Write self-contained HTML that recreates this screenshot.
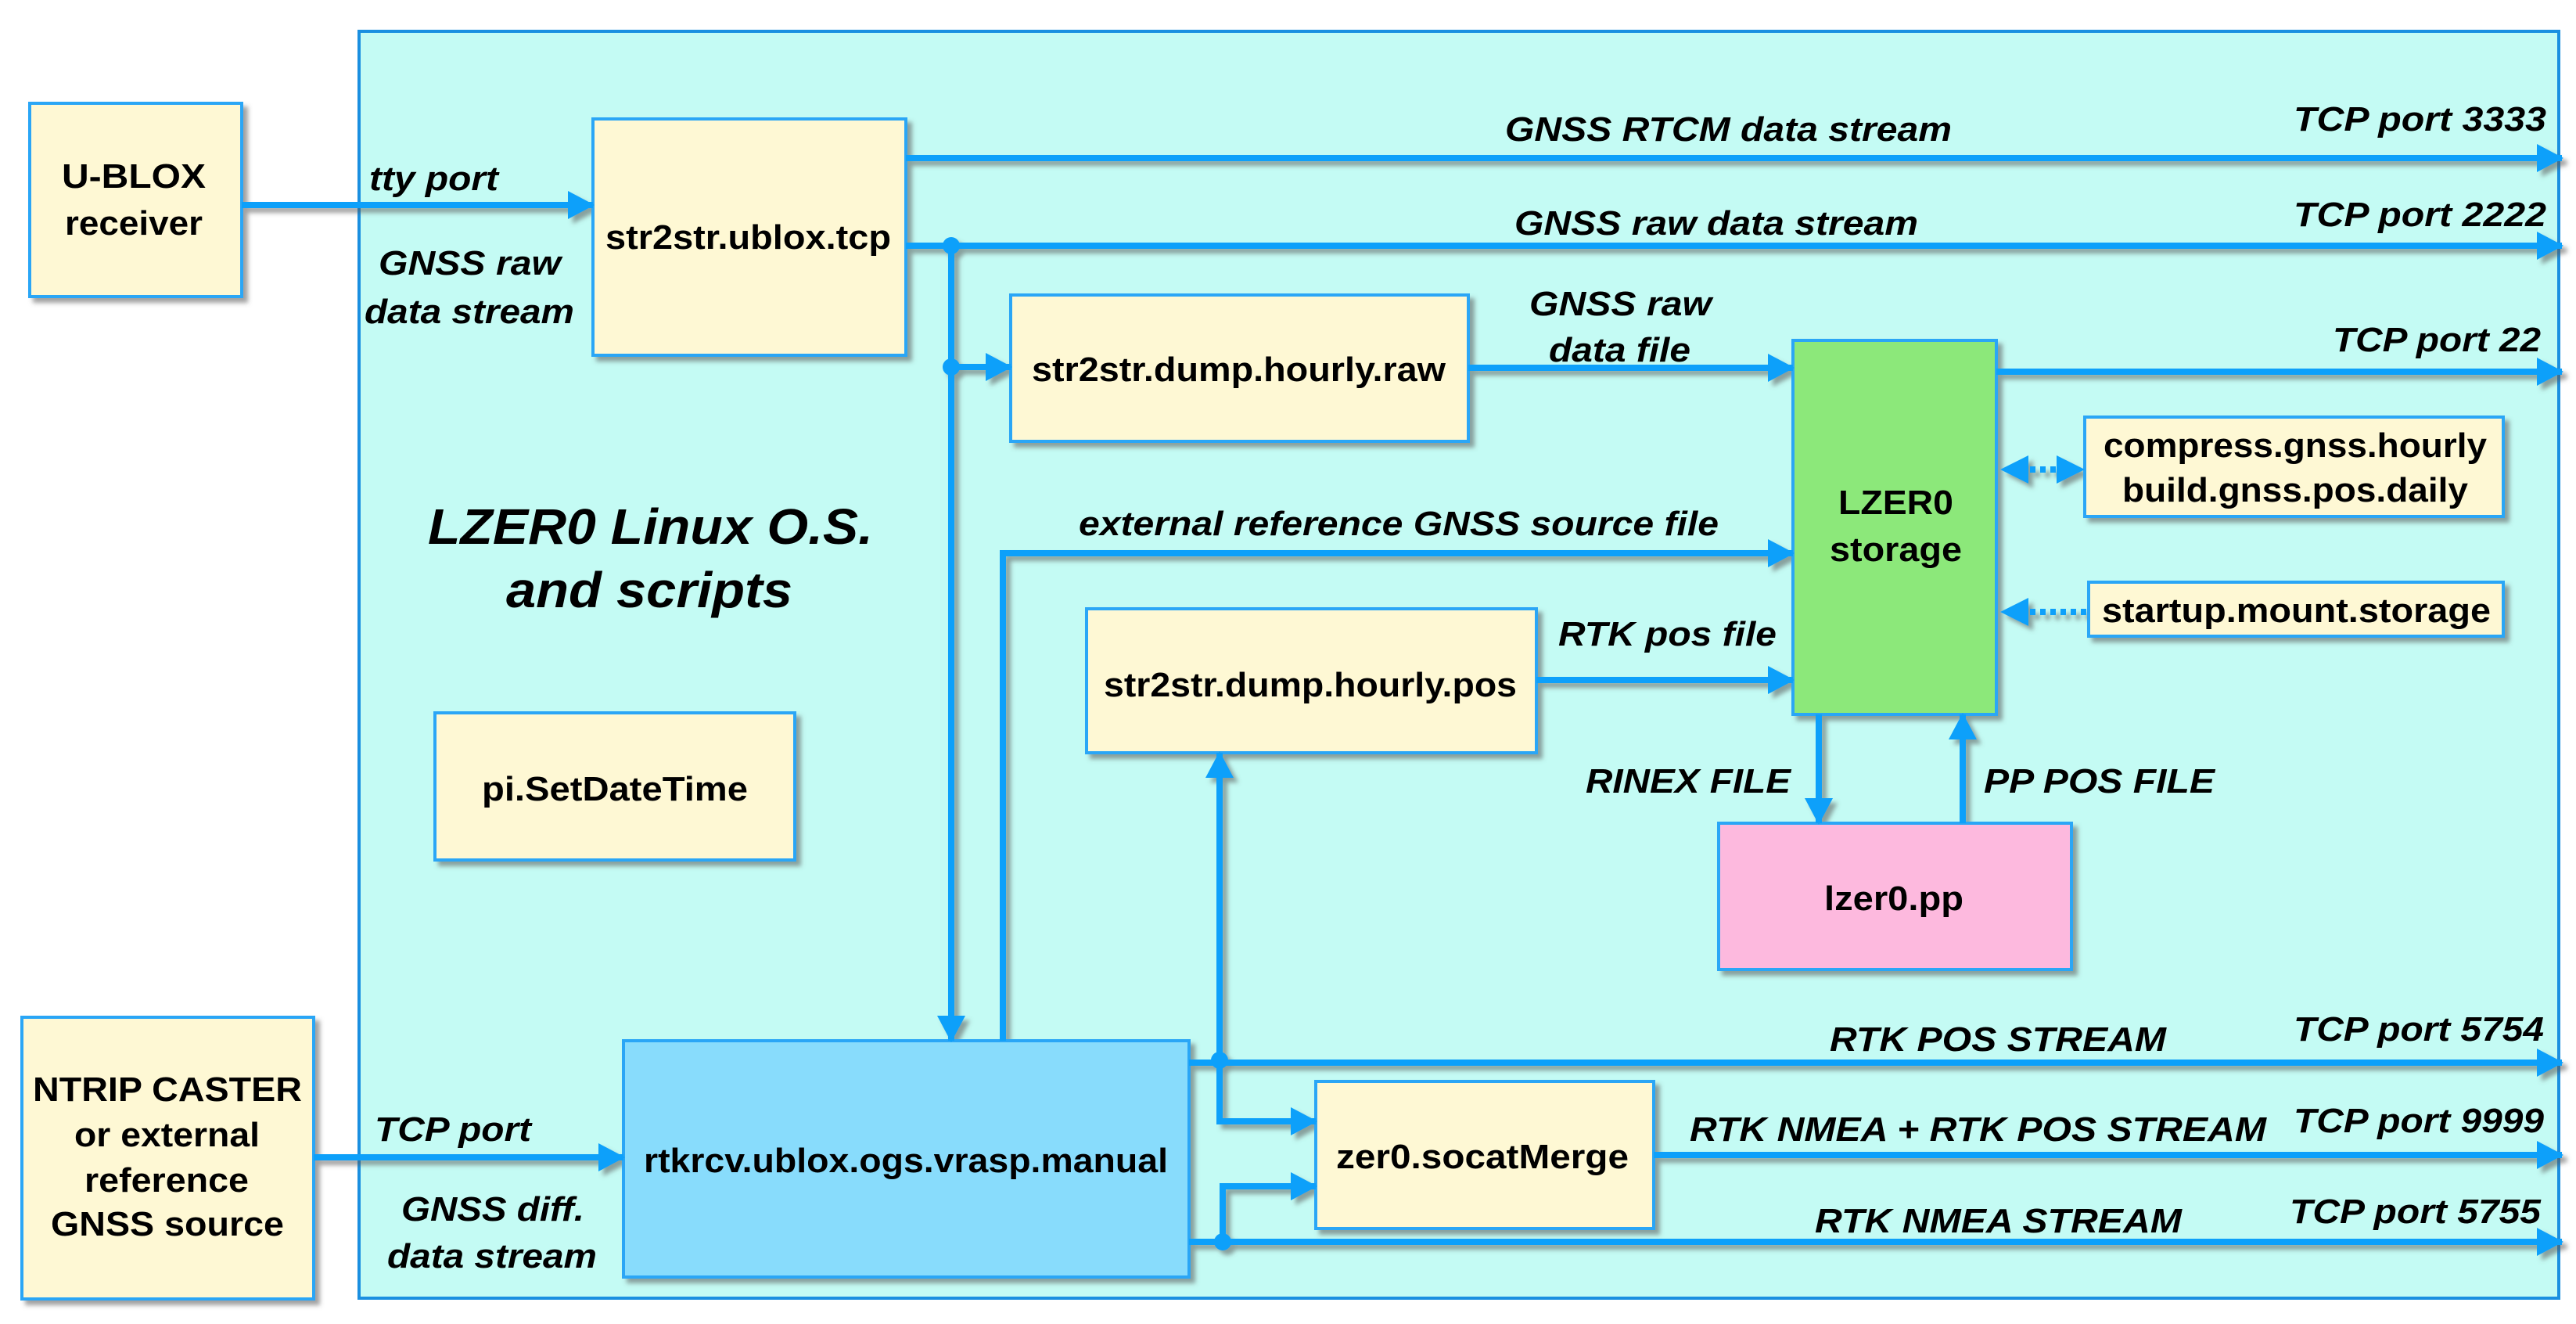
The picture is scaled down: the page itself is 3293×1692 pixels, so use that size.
<!DOCTYPE html>
<html><head><meta charset="utf-8"><style>
html,body{margin:0;padding:0;background:#fff}
svg{display:block}
text{font-family:"Liberation Sans",sans-serif;font-weight:bold;fill:#000}
.i{font-style:italic}
</style></head><body>
<svg width="3293" height="1692" viewBox="0 0 3293 1692" xmlns="http://www.w3.org/2000/svg">
<defs>
<filter id="sh" x="-5%" y="-5%" width="110%" height="110%">
<feDropShadow dx="6" dy="6" stdDeviation="3" flood-color="#555" flood-opacity="0.55"/>
</filter>
<marker id="a" markerUnits="userSpaceOnUse" markerWidth="34" markerHeight="36" refX="32" refY="18" orient="auto">
<polygon points="0,0 34,18 0,36" fill="#0aa0fa"/>
</marker>
</defs>
<rect x="459" y="40" width="2812" height="1619" fill="#c4fbf4" stroke="#1a8fe0" stroke-width="4"/>

<g filter="url(#sh)">
<rect x="38" y="132" width="271" height="247" fill="#fef8d4" stroke="#2aa6f6" stroke-width="4"/>
<rect x="758" y="152" width="400" height="302" fill="#fef8d4" stroke="#2aa6f6" stroke-width="4"/>
<rect x="1292" y="377" width="585" height="187" fill="#fef8d4" stroke="#2aa6f6" stroke-width="4"/>
<rect x="2292" y="435" width="260" height="478" fill="#8ce87a" stroke="#2aa6f6" stroke-width="4"/>
<rect x="2665" y="533" width="535" height="127" fill="#fef8d4" stroke="#2aa6f6" stroke-width="4"/>
<rect x="2670" y="744" width="530" height="69" fill="#fef8d4" stroke="#2aa6f6" stroke-width="4"/>
<rect x="1389" y="778" width="575" height="184" fill="#fef8d4" stroke="#2aa6f6" stroke-width="4"/>
<rect x="2197" y="1052" width="451" height="187" fill="#fdb9de" stroke="#2aa6f6" stroke-width="4"/>
<rect x="556" y="911" width="460" height="188" fill="#fef8d4" stroke="#2aa6f6" stroke-width="4"/>
<rect x="28" y="1300" width="373" height="360" fill="#fef8d4" stroke="#2aa6f6" stroke-width="4"/>
<rect x="797" y="1330" width="723" height="302" fill="#88dcfc" stroke="#2aa6f6" stroke-width="4"/>
<rect x="1682" y="1382" width="432" height="188" fill="#fef8d4" stroke="#2aa6f6" stroke-width="4"/>

<g stroke="#0aa0fa" stroke-width="8" fill="none">
<line x1="309" y1="262" x2="758" y2="262" marker-end="url(#a)"/>
<line x1="1158" y1="202" x2="3275" y2="202" marker-end="url(#a)"/>
<line x1="1158" y1="314" x2="3275" y2="314" marker-end="url(#a)"/>
<line x1="1216" y1="314" x2="1216" y2="1330" marker-end="url(#a)"/>
<line x1="1216" y1="469" x2="1292" y2="469" marker-end="url(#a)"/>
<line x1="1877" y1="470" x2="2292" y2="470" marker-end="url(#a)"/>
<line x1="2552" y1="475" x2="3275" y2="475" marker-end="url(#a)"/>
<polyline points="1282,1330 1282,707 2292,707" marker-end="url(#a)"/>
<line x1="1964" y1="869" x2="2292" y2="869" marker-end="url(#a)"/>
<line x1="2325" y1="913" x2="2325" y2="1052" marker-end="url(#a)"/>
<line x1="2509" y1="1052" x2="2509" y2="913" marker-end="url(#a)"/>
<line x1="401" y1="1479" x2="797" y2="1479" marker-end="url(#a)"/>
<line x1="1520" y1="1358" x2="3275" y2="1358" marker-end="url(#a)"/>
<line x1="1559" y1="1358" x2="1559" y2="962" marker-end="url(#a)"/>
<polyline points="1559,1358 1559,1433 1682,1433" marker-end="url(#a)"/>
<line x1="1520" y1="1587" x2="3275" y2="1587" marker-end="url(#a)"/>
<polyline points="1563,1587 1563,1516 1682,1516" marker-end="url(#a)"/>
<line x1="2114" y1="1476" x2="3275" y2="1476" marker-end="url(#a)"/>
<line x1="2595" y1="600" x2="2635" y2="600" stroke-dasharray="7,6"/>
<line x1="2595" y1="782" x2="2670" y2="782" stroke-dasharray="7,6"/>
</g>
<g fill="#0aa0fa">
<polygon points="2557,600 2593,582 2593,618"/>
<polygon points="2665,600 2629,582 2629,618"/>
<polygon points="2557,782 2593,764 2593,800"/>
<circle cx="1216" cy="314" r="11"/>
<circle cx="1216" cy="469" r="11"/>
<circle cx="1559" cy="1355" r="11"/>
<circle cx="1563" cy="1587" r="11"/>
</g>
</g>

<!-- box labels -->
<g font-size="44">
<text x="79" y="240" textLength="184" lengthAdjust="spacingAndGlyphs">U-BLOX</text>
<text x="83" y="300" textLength="176" lengthAdjust="spacingAndGlyphs">receiver</text>
<text x="774" y="318" textLength="365" lengthAdjust="spacingAndGlyphs">str2str.ublox.tcp</text>
<text x="1319" y="487" textLength="529" lengthAdjust="spacingAndGlyphs">str2str.dump.hourly.raw</text>
<text x="2350" y="657" textLength="147" lengthAdjust="spacingAndGlyphs">LZER0</text>
<text x="2339" y="717" textLength="169" lengthAdjust="spacingAndGlyphs">storage</text>
<text x="2689" y="584" textLength="490" lengthAdjust="spacingAndGlyphs">compress.gnss.hourly</text>
<text x="2713" y="641" textLength="442" lengthAdjust="spacingAndGlyphs">build.gnss.pos.daily</text>
<text x="2687" y="795" textLength="497" lengthAdjust="spacingAndGlyphs">startup.mount.storage</text>
<text x="1411" y="890" textLength="528" lengthAdjust="spacingAndGlyphs">str2str.dump.hourly.pos</text>
<text x="2332" y="1163" textLength="178" lengthAdjust="spacingAndGlyphs">lzer0.pp</text>
<text x="616" y="1023" textLength="340" lengthAdjust="spacingAndGlyphs">pi.SetDateTime</text>
<text x="42" y="1407" textLength="344" lengthAdjust="spacingAndGlyphs">NTRIP CASTER</text>
<text x="95" y="1465" textLength="237" lengthAdjust="spacingAndGlyphs">or external</text>
<text x="108" y="1523" textLength="210" lengthAdjust="spacingAndGlyphs">reference</text>
<text x="65" y="1579" textLength="298" lengthAdjust="spacingAndGlyphs">GNSS source</text>
<text x="823" y="1498" textLength="670" lengthAdjust="spacingAndGlyphs">rtkrcv.ublox.ogs.vrasp.manual</text>
<text x="1708" y="1493" textLength="374" lengthAdjust="spacingAndGlyphs">zer0.socatMerge</text>
</g>

<!-- edge labels -->
<g font-size="44" class="i">
<text class="i" x="472" y="243" textLength="165" lengthAdjust="spacingAndGlyphs">tty port</text>
<text class="i" x="484" y="351" textLength="233" lengthAdjust="spacingAndGlyphs">GNSS raw</text>
<text class="i" x="466" y="413" textLength="268" lengthAdjust="spacingAndGlyphs">data stream</text>
<text class="i" x="1924" y="180" textLength="571" lengthAdjust="spacingAndGlyphs">GNSS RTCM data stream</text>
<text class="i" x="2932" y="167" textLength="323" lengthAdjust="spacingAndGlyphs">TCP port 3333</text>
<text class="i" x="1936" y="300" textLength="516" lengthAdjust="spacingAndGlyphs">GNSS raw data stream</text>
<text class="i" x="2932" y="289" textLength="323" lengthAdjust="spacingAndGlyphs">TCP port 2222</text>
<text class="i" x="1955" y="403" textLength="233" lengthAdjust="spacingAndGlyphs">GNSS raw</text>
<text class="i" x="1980" y="462" textLength="181" lengthAdjust="spacingAndGlyphs">data file</text>
<text class="i" x="2982" y="449" textLength="266" lengthAdjust="spacingAndGlyphs">TCP port 22</text>
<text class="i" x="1379" y="684" textLength="818" lengthAdjust="spacingAndGlyphs">external reference GNSS source file</text>
<text class="i" x="1992" y="825" textLength="279" lengthAdjust="spacingAndGlyphs">RTK pos file</text>
<text class="i" x="2027" y="1013" textLength="262" lengthAdjust="spacingAndGlyphs">RINEX FILE</text>
<text class="i" x="2536" y="1013" textLength="295" lengthAdjust="spacingAndGlyphs">PP POS FILE</text>
<text class="i" x="2339" y="1343" textLength="430" lengthAdjust="spacingAndGlyphs">RTK POS STREAM</text>
<text class="i" x="2932" y="1330" textLength="320" lengthAdjust="spacingAndGlyphs">TCP port 5754</text>
<text class="i" x="2160" y="1458" textLength="737" lengthAdjust="spacingAndGlyphs">RTK NMEA + RTK POS STREAM</text>
<text class="i" x="2932" y="1447" textLength="320" lengthAdjust="spacingAndGlyphs">TCP port 9999</text>
<text class="i" x="2320" y="1575" textLength="469" lengthAdjust="spacingAndGlyphs">RTK NMEA STREAM</text>
<text class="i" x="2927" y="1563" textLength="321" lengthAdjust="spacingAndGlyphs">TCP port 5755</text>
<text class="i" x="479" y="1458" textLength="200" lengthAdjust="spacingAndGlyphs">TCP port</text>
<text class="i" x="513" y="1560" textLength="234" lengthAdjust="spacingAndGlyphs">GNSS diff.</text>
<text class="i" x="495" y="1620" textLength="268" lengthAdjust="spacingAndGlyphs">data stream</text>
</g>
<text class="i" x="547" y="695" font-size="64" textLength="569" lengthAdjust="spacingAndGlyphs">LZER0 Linux O.S.</text>
<text class="i" x="647" y="776" font-size="64" textLength="366" lengthAdjust="spacingAndGlyphs">and scripts</text>
</svg>
</body></html>
